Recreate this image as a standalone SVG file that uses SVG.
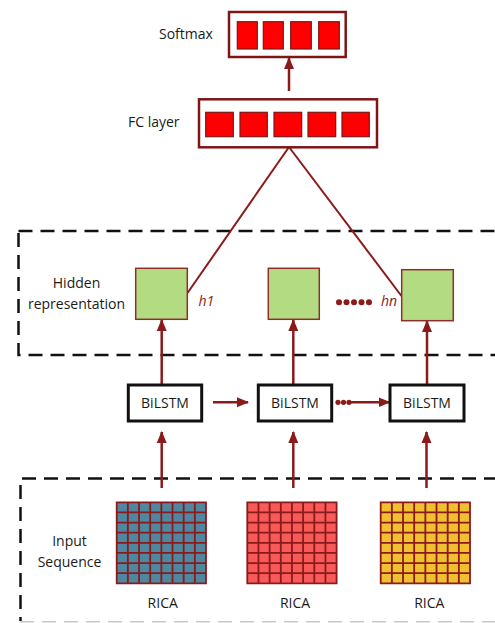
<svg xmlns="http://www.w3.org/2000/svg" xmlns:xlink="http://www.w3.org/1999/xlink" width="495" height="623" viewBox="0 0 495 623">
<style>
  .lbl { font-family: "Open Sans", "Liberation Sans", sans-serif; font-size: 14px; fill: #1a1a1a; }
  .h { font-family: "Open Sans", "Liberation Sans", sans-serif; font-size: 14px; font-style: italic; fill: #8b1a1a; }
  .outer { fill: #ffffff; stroke: #7f1515; stroke-width: 2.5; }
  .cell { fill: #ff0000; stroke: #7f1515; stroke-width: 1.2; }
  .hid { fill: #b3dc82; stroke: #8e2f2a; stroke-width: 1.5; }
  .bil { fill: #ffffff; stroke: #111111; stroke-width: 3; }
  .arr { stroke: #8b1a1a; stroke-width: 2.5; fill: none; }
  .fcl { stroke: #8b1a1a; stroke-width: 2; fill: none; }
  .dash { stroke: #111111; stroke-width: 2.5; fill: none; stroke-dasharray: 14 8; }
  .dot { fill: #8b1a1a; }
  .grid { stroke: #8b1a1a; stroke-width: 1.8; fill: none; }
</style>
<defs>
  <marker id="ah" markerUnits="userSpaceOnUse" markerWidth="12" markerHeight="12" viewBox="0 0 12 12" refX="11" refY="6" orient="auto">
    <path d="M0,1 L12,6 L0,11 Z" fill="#8b1a1a"/>
  </marker>
  <path id="gl" class="grid" d="M0,0 H89.3 V81 H0 Z M11.16,0 V81 M22.33,0 V81 M33.49,0 V81 M44.65,0 V81 M55.81,0 V81 M66.98,0 V81 M78.14,0 V81 M0,10.13 H89.3 M0,20.25 H89.3 M0,30.38 H89.3 M0,40.5 H89.3 M0,50.63 H89.3 M0,60.75 H89.3 M0,70.88 H89.3"/>
</defs>

<g id="regions">
  <rect class="dash" x="18.5" y="231" width="500" height="124"/>
  <path class="dash" d="M520,478.5 H20.5 V621"/>
  <line x1="20" y1="621.8" x2="495" y2="621.8" stroke="#c8c8c8" stroke-width="1.5" stroke-dasharray="14 8"/>
</g>

<g id="connectors">
  <line class="arr" x1="289" y1="91" x2="289" y2="58" marker-end="url(#ah)"/>
  <line class="fcl" x1="289" y1="147" x2="187.5" y2="293"/>
  <line class="fcl" x1="289" y1="147" x2="401.5" y2="296"/>
  <line class="arr" x1="161.7" y1="385" x2="161.7" y2="320" marker-end="url(#ah)"/>
  <line class="arr" x1="293.3" y1="385" x2="293.3" y2="320" marker-end="url(#ah)"/>
  <line class="arr" x1="427" y1="385" x2="427" y2="321" marker-end="url(#ah)"/>
  <line class="arr" x1="161.7" y1="488" x2="161.7" y2="432" marker-end="url(#ah)"/>
  <line class="arr" x1="293.3" y1="488" x2="293.3" y2="432" marker-end="url(#ah)"/>
  <line class="arr" x1="426.5" y1="488" x2="426.5" y2="432" marker-end="url(#ah)"/>
  <line class="arr" x1="213" y1="402.3" x2="248" y2="402.3" marker-end="url(#ah)"/>
  <g id="dots-bilstm">
    <circle class="dot" cx="338" cy="402.3" r="2.6"/>
    <circle class="dot" cx="343.5" cy="402.3" r="2.6"/>
    <circle class="dot" cx="349" cy="402.3" r="2.6"/>
  </g>
  <line class="arr" x1="351" y1="402.3" x2="389.5" y2="402.3" marker-end="url(#ah)"/>
</g>

<g id="softmax">
  <text class="lbl" x="159" y="38.5">Softmax</text>
  <rect class="outer" x="229" y="12" width="116.7" height="45"/>
  <rect class="cell" x="237.3" y="21.7" width="20" height="27.3"/>
  <rect class="cell" x="263.3" y="21.7" width="20" height="27.3"/>
  <rect class="cell" x="290.7" y="21.7" width="20.6" height="27.3"/>
  <rect class="cell" x="318.7" y="21.7" width="20.6" height="27.3"/>
</g>

<g id="fc">
  <text class="lbl" x="128" y="127">FC layer</text>
  <rect class="outer" x="199" y="99.3" width="178" height="48"/>
  <rect class="cell" x="205.7" y="112.3" width="27.6" height="24.4"/>
  <rect class="cell" x="240" y="112.3" width="27.3" height="24.4"/>
  <rect class="cell" x="274" y="112.3" width="27.7" height="24.4"/>
  <rect class="cell" x="308" y="112.3" width="27.7" height="24.4"/>
  <rect class="cell" x="342" y="112.3" width="27.3" height="24.4"/>
</g>

<g id="hidden">
  <text class="lbl" x="76.5" y="288" text-anchor="middle">Hidden</text>
  <text class="lbl" x="76.5" y="309" text-anchor="middle">representation</text>
  <rect class="hid" x="135.7" y="268.3" width="51.6" height="51"/>
  <text class="h" x="198.5" y="306">h1</text>
  <rect class="hid" x="268.3" y="268.3" width="51" height="51"/>
  <g id="dots-hidden">
    <circle class="dot" cx="339" cy="302.3" r="3"/>
    <circle class="dot" cx="346.5" cy="302.3" r="3"/>
    <circle class="dot" cx="354" cy="302.3" r="3"/>
    <circle class="dot" cx="361.5" cy="302.3" r="3"/>
    <circle class="dot" cx="369" cy="302.3" r="3"/>
  </g>
  <text class="h" x="381" y="306">hn</text>
  <rect class="hid" x="401.7" y="269.7" width="51.6" height="51"/>
</g>

<g id="bilstm1">
  <rect class="bil" x="128.3" y="385" width="73.4" height="36"/>
  <text class="lbl" x="165" y="408" text-anchor="middle">BiLSTM</text>
</g>
<g id="bilstm2">
  <rect class="bil" x="258.3" y="385" width="73.4" height="36"/>
  <text class="lbl" x="295" y="408" text-anchor="middle">BiLSTM</text>
</g>
<g id="bilstm3">
  <rect class="bil" x="390" y="385" width="74" height="36"/>
  <text class="lbl" x="427" y="408" text-anchor="middle">BiLSTM</text>
</g>

<g id="input">
  <text class="lbl" x="69.5" y="546" text-anchor="middle">Input</text>
  <text class="lbl" x="69.5" y="567" text-anchor="middle">Sequence</text>
</g>

<g id="rica1">
  <rect x="116.7" y="502.3" width="89.3" height="81" fill="#4f87a0"/>
  <use xlink:href="#gl" x="116.7" y="502.3"/>
  <text class="lbl" x="162.7" y="607.5" text-anchor="middle">RICA</text>
</g>
<g id="rica2">
  <rect x="247.3" y="502.3" width="89.3" height="81" fill="#f85a5a"/>
  <use xlink:href="#gl" x="247.3" y="502.3"/>
  <text class="lbl" x="295" y="607.5" text-anchor="middle">RICA</text>
</g>
<g id="rica3">
  <rect x="380.7" y="502.3" width="89.3" height="81" fill="#f0c030"/>
  <use xlink:href="#gl" x="380.7" y="502.3"/>
  <text class="lbl" x="429.3" y="607.5" text-anchor="middle">RICA</text>
</g>
</svg>
